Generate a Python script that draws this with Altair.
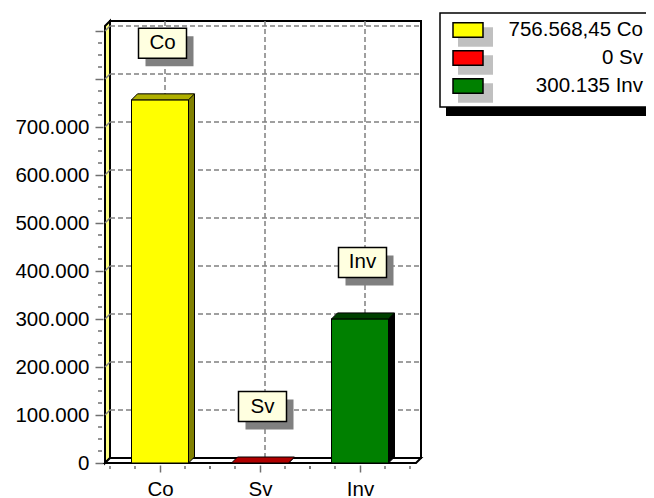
import altair as alt
import pandas as pd

# ---- data -----------------------------------------------------------------
CATS = ["Co", "Sv", "Inv"]
VALUES = [756568.45, 0, 300135]
Y_TICKS = [0, 100000, 200000, 300000, 400000, 500000, 600000, 700000, 800000, 900000]
Y_MINOR = [v for v in range(0, 900001, 25000) if v % 100000]
Y_MAX = 910417

# ---- styles ---------------------------------------------------------------
FRONT = {"Co": "#ffff00", "Sv": "#ff0000", "Inv": "#008000"}
TOP = {"Co": "#b0b000", "Sv": "#b00000", "Inv": "#004000"}
SIDE = {"Co": "#808000", "Sv": "#800000", "Inv": "#000000"}
FONT = "Liberation Sans"
FS = 20.5
GRID = "#808080"
TICK = "#707070"

W, H = 311, 437          # plot area (front plane)
D = 5                    # wall depth
B = 6                    # bar depth
HB = 28.5                # half bar width
LDX, LDY = 2.5, -56.5    # label box offset from bar top


def fmt(v):
    s = f"{v:,.2f}".replace(",", "X").replace(".", ",").replace("X", ".")
    if s.endswith(",00"):
        s = s[:-3]
    return s


bars = pd.DataFrame({
    "cat": CATS,
    "value": VALUES,
    "base": [0] * len(CATS),
    "top": [Y_MAX] * len(CATS),
    "front": [FRONT[c] for c in CATS],
    "topc": [TOP[c] for c in CATS],
    "side": [SIDE[c] for c in CATS],
})
frame = pd.DataFrame({"top": [Y_MAX], "base": [0]})
grid_df = pd.DataFrame({"v": Y_TICKS[1:]})
minor_df = pd.DataFrame({"v": Y_MINOR})
leg_df = pd.DataFrame({
    "cat": CATS,
    "label": [f"{fmt(v)} {c}" for c, v in zip(CATS, VALUES)],
    "front": [FRONT[c] for c in CATS],
})

# ---- scales / axes --------------------------------------------------------
xs = alt.Scale(type="point", domain=CATS, range=[55, 255], padding=0)
ys = alt.Scale(domain=[0, Y_MAX], nice=False, zero=True)
x_axis = alt.Axis(title=None, offset=2, tickSize=7, labelPadding=7, labelAngle=0,
                  domain=False, grid=False)
y_axis = alt.Axis(title=None, offset=2, tickSize=8, labelPadding=6, domain=False,
                  grid=False, values=Y_TICKS,
                  labelExpr="datum.value > 700000 ? '' : replace(format(datum.value, ','), ',', '.')")

X = alt.X("cat:N", scale=xs, axis=x_axis)


def Yq(field):
    return alt.Y(f"{field}:Q", scale=ys, axis=y_axis)


def pt(shape, **kw):
    return dict(shape=shape, size=4, opacity=1, **kw)


# ---- frame ----------------------------------------------------------------
back_wall = alt.Chart(frame).mark_rect(
    fill="white", stroke="black", strokeWidth=2, yOffset=-D, y2Offset=-D
).encode(x=alt.value(D), x2=alt.value(W + D), y=Yq("top"), y2="base")

left_wall = alt.Chart(frame).mark_point(
    **pt(f"M0,0 L0,{-H} L{D},{-H - D} L{D},{-D} Z"),
    filled=True, fill="#ffff80", stroke="black", strokeWidth=2
).encode(x=alt.value(0), y=Yq("base"))

floor = alt.Chart(frame).mark_point(
    **pt(f"M0,0 L{W},0 L{W + D},{-D} L{D},{-D} Z"),
    filled=True, fill="white", stroke="black", strokeWidth=2
).encode(x=alt.value(0), y=Yq("base"))

h_grid = alt.Chart(grid_df).mark_rule(
    stroke=GRID, strokeWidth=1.5, strokeDash=[5, 3], yOffset=-D
).encode(x=alt.value(D), x2=alt.value(W + D), y=Yq("v"))

h_grid_side = alt.Chart(grid_df).mark_point(
    **pt(f"M0,0 L{D},{-D}"), filled=False, stroke=GRID, strokeWidth=1.5
).encode(x=alt.value(0), y=Yq("v"))

v_grid = alt.Chart(bars).mark_rule(
    stroke=GRID, strokeWidth=1.5, strokeDash=[5, 3], xOffset=D, yOffset=-D, y2Offset=-D
).encode(x=X, y=Yq("top"), y2="base")

y_minor = alt.Chart(minor_df).mark_rule(stroke=TICK, strokeWidth=1.5).encode(
    x=alt.value(-7), x2=alt.value(-3), y=Yq("v"))

x_minor = [
    alt.Chart(bars).mark_rule(stroke=TICK, strokeWidth=1.5, xOffset=off).encode(
        x=X, y=alt.value(H + 3), y2=alt.value(H + 6))
    for off in (-50, -25, 25, 50)
]

# ---- bars -----------------------------------------------------------------
side = alt.Chart(bars).mark_bar(
    size=B, xOffset=HB + B / 2, yOffset=-B, y2Offset=-B
).encode(x=X, y=Yq("value"), y2="base", fill=alt.Fill("side:N", scale=None))

side_edge = alt.Chart(bars).mark_rule(
    stroke="black", strokeWidth=1, xOffset=HB + B, yOffset=-B, y2Offset=-B
).encode(x=X, y=Yq("value"), y2="base")

bottom_tri = alt.Chart(bars).mark_point(
    **pt(f"M{HB},{-B} L{HB},0 L{HB + B},{-B}"), filled=True, stroke="black", strokeWidth=1
).encode(x=X, y=Yq("base"), fill=alt.Fill("side:N", scale=None))

front = alt.Chart(bars).mark_bar(size=2 * HB, stroke="black", strokeWidth=1).encode(
    x=X, y=Yq("value"), y2="base", fill=alt.Fill("front:N", scale=None))

top_face = alt.Chart(bars).mark_point(
    **pt(f"M{-HB},0 L{HB},0 L{HB + B},{-B} L{-HB + B},{-B} Z"),
    filled=True, stroke="black", strokeWidth=1
).encode(x=X, y=Yq("value"), fill=alt.Fill("topc:N", scale=None))

# ---- value labels -----------------------------------------------------------
box_shape = "M-24,-15 L24,-15 L24,15 L-24,15 Z"
lab_shadow = alt.Chart(bars).mark_point(
    **pt(box_shape), filled=True, fill="#808080", strokeWidth=0,
    xOffset=LDX + 7, yOffset=LDY + 8
).encode(x=X, y=Yq("value"))
lab_box = alt.Chart(bars).mark_point(
    **pt(box_shape), filled=True, fill="#ffffe0", stroke="black", strokeWidth=1.5,
    xOffset=LDX, yOffset=LDY
).encode(x=X, y=Yq("value"))
lab_text = alt.Chart(bars).mark_text(
    dx=LDX, dy=LDY, font=FONT, fontSize=FS, baseline="middle", align="center", color="black"
).encode(x=X, y=Yq("value"), text="cat:N")

main = alt.layer(back_wall, left_wall, floor, h_grid, h_grid_side, v_grid, y_minor,
                 *x_minor, side, side_edge, bottom_tri, front, top_face,
                 lab_shadow, lab_box, lab_text)

# ---- legend -----------------------------------------------------------------
LY = alt.Y("cat:N", scale=alt.Scale(type="point", domain=CATS, range=[4, 60], padding=0),
           axis=None)
leg_shadow = alt.Chart(frame).mark_rect(fill="black").encode(
    x=alt.value(341), x2=alt.value(566), y=alt.value(-4), y2=alt.value(90))
leg_box = alt.Chart(frame).mark_rect(fill="white", stroke="black", strokeWidth=1.5).encode(
    x=alt.value(335), x2=alt.value(560), y=alt.value(-13), y2=alt.value(81))
sw_shadow = alt.Chart(leg_df).mark_point(
    **pt("M-10,-2.7 L25,-2.7 L25,16.7 L-10,16.7 Z"), filled=True, fill="#c0c0c0", strokeWidth=0
).encode(x=alt.value(363), y=LY)
sw = alt.Chart(leg_df).mark_point(
    **pt("M-15,-7.3 L15,-7.3 L15,7.3 L-15,7.3 Z"), filled=True, stroke="black", strokeWidth=1.5
).encode(x=alt.value(363), y=LY, fill=alt.Fill("front:N", scale=None))
leg_text = alt.Chart(leg_df).mark_text(
    align="right", baseline="middle", font=FONT, fontSize=FS, color="black"
).encode(x=alt.value(538), y=LY, text="label:N")

legend = alt.layer(leg_shadow, leg_box, sw_shadow, sw, leg_text)

chart = alt.layer(main, legend).resolve_scale(y="independent").properties(
    width=W, height=H,
    autosize=alt.AutoSizeParams(type="none"),
    padding={"left": 97, "top": 18, "right": 230, "bottom": 35},
    background="white",
).configure_view(stroke=None).configure_axis(
    labelFont=FONT, labelFontSize=FS, labelColor="black", tickColor=TICK, tickWidth=1.5
)

chart.save("out.html", embed_options={"renderer": "svg", "actions": False})
